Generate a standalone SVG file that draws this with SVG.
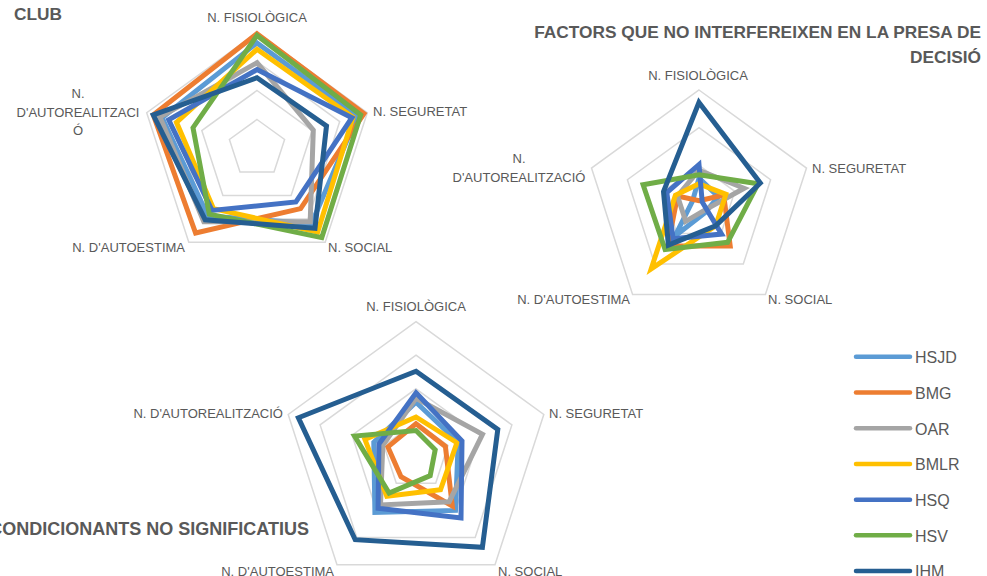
<svg xmlns="http://www.w3.org/2000/svg" width="987" height="576" viewBox="0 0 987 576">
<style>
.bg{fill:#ffffff}
.grid{fill:none;stroke:#D9D9D9;stroke-width:1.5}
.s{fill:none;stroke-width:5;stroke-linejoin:miter;stroke-miterlimit:10}
.hsjd{stroke:#5B9BD5}.bmg{stroke:#ED7D31}.oar{stroke:#A5A5A5}.bmlr{stroke:#FFC000}.hsq{stroke:#4472C4}.hsv{stroke:#70AD47}.ihm{stroke:#255E91}
.lab{font-family:"Liberation Sans",Arial,sans-serif;font-size:13px;fill:#595959}
.ttl{font-family:"Liberation Sans",Arial,sans-serif;font-size:17.3px;font-weight:bold;fill:#595959}
.leg{font-family:"Liberation Sans",Arial,sans-serif;font-size:16px;fill:#595959}
.ll{stroke-width:4.5;stroke-linecap:round}
</style>
<rect class="bg" x="0" y="0" width="987" height="576"/>

<g id="chart-club">
  <text class="ttl" x="14" y="19.5">CLUB</text>
  <g id="club-grid">
    <polygon class="grid" points="257,32.5 367.3,112.7 325.2,242.3 188.8,242.3 146.7,112.7"/>
    <polygon class="grid" points="257,61.5 339.7,121.6 308.1,218.9 205.9,218.9 174.3,121.6"/>
    <polygon class="grid" points="257,90.5 312.2,130.6 291.1,195.4 222.9,195.4 201.8,130.6"/>
    <polygon class="grid" points="257,119.5 284.6,139.5 274,172 240,172 229.4,139.5"/>
  </g>
  <g id="club-labels">
    <text class="lab" x="257" y="22" text-anchor="middle">N. FISIOLÒGICA</text>
    <text class="lab" x="373" y="116">N. SEGURETAT</text>
    <text class="lab" x="328" y="252">N. SOCIAL</text>
    <text class="lab" x="185" y="252" text-anchor="end">N. D'AUTOESTIMA</text>
    <text class="lab" x="78" y="98" text-anchor="middle">N.</text>
    <text class="lab" x="78" y="117" text-anchor="middle">D'AUTOREALITZACI</text>
    <text class="lab" x="78" y="135" text-anchor="middle">Ó</text>
  </g>
  <g id="club-series">
    <polygon class="s hsjd" points="257,42.9 357.4,115.9 311.6,223.6 207.9,216.1 162.1,117.7"/>
    <polygon class="s bmg" points="257,33.7 364,113.7 300.6,208.6 195.6,233 153.3,114.8"/>
    <polygon class="s oar" points="257,62.7 313.3,130.2 310.2,221.7 203.8,221.7 159.9,117"/>
    <polygon class="s bmlr" points="257,49.3 353,117.3 317.7,232 213.4,208.6 176.5,122.3"/>
    <polygon class="s hsq" points="257,69.6 351.9,117.7 295.9,202 212,210.4 168.7,119.8"/>
    <polygon class="s hsv" points="257,35.4 360.7,114.8 321.8,237.6 209.3,214.2 193,127.7"/>
    <polygon class="s ihm" points="257,77.7 326.5,125.9 315,228.3 205.2,219.8 153.3,114.8"/>
  </g>
</g>

<g id="chart-factors">
  <text class="ttl" x="981" y="38" text-anchor="end">FACTORS QUE NO INTERFEREIXEN EN LA PRESA DE</text>
  <text class="ttl" x="981" y="63" text-anchor="end">DECISIÓ</text>
  <g id="factors-grid">
    <polygon class="grid" points="699,90 806.5,168.1 765.4,294.4 632.6,294.4 591.5,168.1"/>
    <polygon class="grid" points="699,127.7 770.6,179.7 743.3,263.9 654.7,263.9 627.4,179.7"/>
    <polygon class="grid" points="699,165.3 734.8,191.4 721.1,233.5 676.9,233.5 663.2,191.4"/>
  </g>
  <g id="factors-labels">
    <text class="lab" x="698" y="80" text-anchor="middle">N. FISIOLÒGICA</text>
    <text class="lab" x="812" y="173">N. SEGURETAT</text>
    <text class="lab" x="768" y="304">N. SOCIAL</text>
    <text class="lab" x="630" y="304" text-anchor="end">N. D'AUTOESTIMA</text>
    <text class="lab" x="519" y="163" text-anchor="middle">N.</text>
    <text class="lab" x="519" y="182" text-anchor="middle">D'AUTOREALITZACIÓ</text>
  </g>
  <g id="factors-series">
    <polygon class="s hsjd" points="699,178.1 718.3,196.7 705.6,212.1 675.1,235.9 692.6,200.9"/>
    <polygon class="s bmg" points="699,200.7 723.7,195 730.2,246 667.8,246 677.5,196"/>
    <polygon class="s oar" points="699,170.2 744.1,188.3 704.3,210.3 685.7,221.3 677.5,196"/>
    <polygon class="s bmlr" points="699,183.8 725.9,194.3 715.6,225.9 651.2,268.8 675.4,195.3"/>
    <polygon class="s hsq" points="699,164.6 702.2,202 721.6,234.1 673.1,238.7 666.8,192.5"/>
    <polygon class="s hsv" points="699,174.8 758.1,183.8 727.6,242.3 665.1,249.6 643.1,184.8"/>
    <polygon class="s ihm" points="699,102.4 760.3,183.1 715.6,225.9 668.4,245.1 663.5,191.5"/>
  </g>
</g>

<g id="chart-condicionants">
  <text class="ttl" x="309" y="535" text-anchor="end" style="font-size:18px">CONDICIONANTS NO SIGNIFICATIUS</text>
  <g id="cond-grid">
    <polygon class="grid" points="416,321.6 543.8,414.5 495,564.7 337,564.7 288.2,414.5"/>
    <polygon class="grid" points="416,355.2 511.9,424.9 475.2,537.5 356.8,537.5 320.1,424.9"/>
    <polygon class="grid" points="416,388.8 479.9,435.2 455.5,510.4 376.5,510.4 352.1,435.2"/>
    <polygon class="grid" points="416,422.4 448,445.6 435.7,483.2 396.3,483.2 384,445.6"/>
  </g>
  <g id="cond-labels">
    <text class="lab" x="416" y="311" text-anchor="middle">N. FISIOLÒGICA</text>
    <text class="lab" x="549" y="418">N. SEGURETAT</text>
    <text class="lab" x="498" y="576">N. SOCIAL</text>
    <text class="lab" x="334" y="576" text-anchor="end">N. D'AUTOESTIMA</text>
    <text class="lab" x="283" y="418" text-anchor="end">N. D'AUTOREALITZACIÓ</text>
  </g>
  <g id="cond-series">
    <polygon class="s hsjd" points="416,402.2 458.2,442.3 455.5,510.4 374.9,512.5 373.8,442.3"/>
    <polygon class="s bmg" points="416,423.7 445.4,446.4 452.3,506 401,476.7 387.9,446.9"/>
    <polygon class="s oar" points="416,398.2 482.5,434.4 449.2,501.7 380.5,504.9 382.8,445.2"/>
    <polygon class="s bmlr" points="416,417 456.9,442.7 440.5,489.7 386.8,496.2 364.9,439.4"/>
    <polygon class="s hsq" points="416,392.8 462,441 461,518 378.1,508.2 378.9,444"/>
    <polygon class="s hsv" points="416,430.5 435.2,449.8 430.2,475.6 389.1,493 354.6,436.1"/>
    <polygon class="s ihm" points="416,371.3 497.8,429.4 482.4,547.3 355.2,539.7 298.4,417.8"/>
  </g>
</g>

<g id="legend">
  <g id="leg-hsjd"><line class="ll hsjd" x1="856" y1="356.7" x2="910" y2="356.7"/><text class="leg" x="915" y="363">HSJD</text></g>
  <g id="leg-bmg"><line class="ll bmg" x1="856" y1="392.5" x2="910" y2="392.5"/><text class="leg" x="915" y="398.8">BMG</text></g>
  <g id="leg-oar"><line class="ll oar" x1="856" y1="428.3" x2="910" y2="428.3"/><text class="leg" x="915" y="434.6">OAR</text></g>
  <g id="leg-bmlr"><line class="ll bmlr" x1="856" y1="464" x2="910" y2="464"/><text class="leg" x="915" y="470.3">BMLR</text></g>
  <g id="leg-hsq"><line class="ll hsq" x1="856" y1="499.7" x2="910" y2="499.7"/><text class="leg" x="915" y="506">HSQ</text></g>
  <g id="leg-hsv"><line class="ll hsv" x1="856" y1="535.3" x2="910" y2="535.3"/><text class="leg" x="915" y="541.6">HSV</text></g>
  <g id="leg-ihm"><line class="ll ihm" x1="856" y1="571" x2="910" y2="571"/><text class="leg" x="915" y="577.3">IHM</text></g>
</g>
</svg>
